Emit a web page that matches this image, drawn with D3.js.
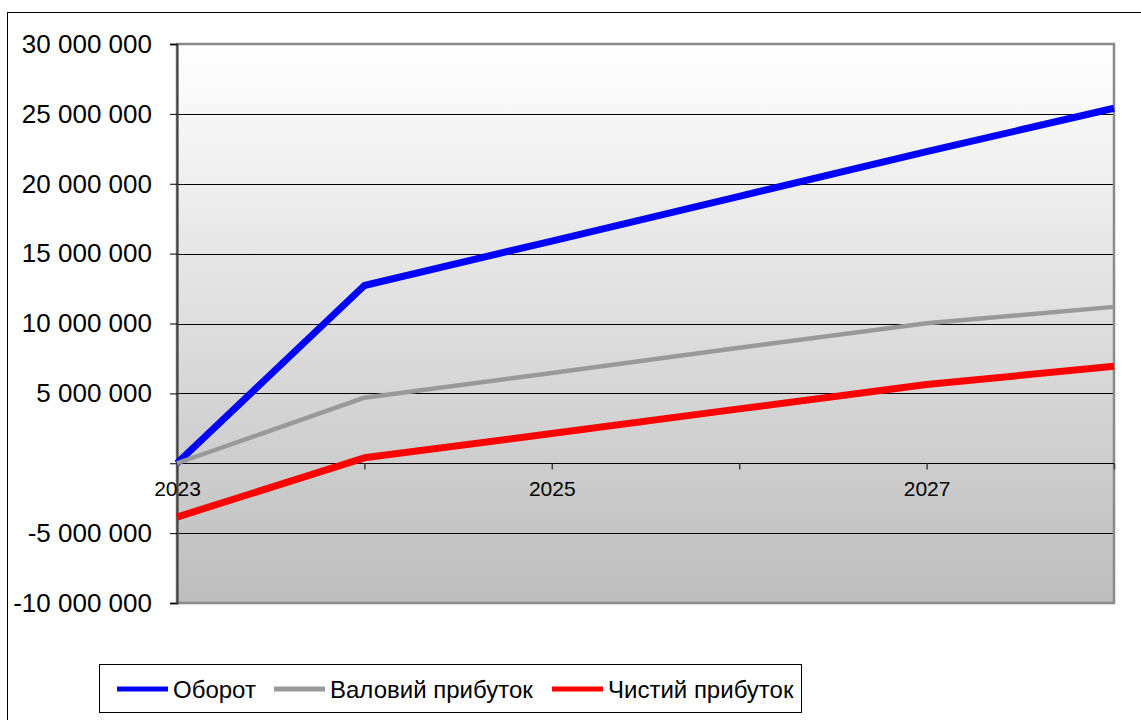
<!DOCTYPE html>
<html>
<head>
<meta charset="utf-8">
<script src="https://cdn.jsdelivr.net/npm/d3@7"></script>
<style>
  html, body { margin: 0; padding: 0; background: #fff; }
  svg { display: block; font-family: "Liberation Sans", Arial, sans-serif; }
</style>
</head>
<body>
<svg id="chart" width="1141" height="720"></svg>
<script>
// Years on the category axis
const years = [2023, 2024, 2025, 2026, 2027, 2028];
// Years that carry a label under the axis
const labelledYears = [2023, 2025, 2027];
// Value-axis ticks
const yTicks = [-10000000, -5000000, 0, 5000000, 10000000, 15000000, 20000000, 25000000, 30000000];

// Series values, UAH
const turnover    = [0, 12720000, 15900000, 19100000, 22300000, 25400000];
const grossProfit = [0, 4690000, 6460000, 8270000, 10020000, 11190000];
const netProfit   = [-3850000, 390000, 2130000, 3890000, 5630000, 6940000];

const seriesNames  = ["Оборот", "Валовий прибуток", "Чистий прибуток"];
const seriesValues = [turnover, grossProfit, netProfit];
const seriesColors = ["#0000ff", "#999999", "#ff0000"];
const seriesWidths = [7, 4.5, 7];

const svg = d3.select("#chart");

// Plot area
const plot = { left: 177, right: 1114, top: 44, bottom: 603 };

const x = d3.scalePoint().domain(years).range([plot.left, plot.right]);
const y = d3.scaleLinear().domain([-10000000, 30000000]).range([plot.bottom, plot.top]);

const locale = d3.formatLocale({ decimal: ",", thousands: " ", grouping: [3], currency: ["", ""], minus: "-" });
const fmt = locale.format(",.0f");

// Outer chart frame
svg.append("rect")
  .attr("x", 7.5).attr("y", 12.5)
  .attr("width", 1200).attr("height", 800)
  .attr("fill", "#fff").attr("stroke", "#000").attr("stroke-width", 1);

// Background gradient of the plot area
const defs = svg.append("defs");
const grad = defs.append("linearGradient")
  .attr("id", "plotBg").attr("x1", 0).attr("y1", 0).attr("x2", 0).attr("y2", 1);
grad.append("stop").attr("offset", "0%").attr("stop-color", "#ffffff");
grad.append("stop").attr("offset", "100%").attr("stop-color", "#bdbdbd");

svg.append("rect")
  .attr("x", plot.left).attr("y", plot.top)
  .attr("width", plot.right - plot.left).attr("height", plot.bottom - plot.top)
  .attr("fill", "url(#plotBg)");

// Horizontal gridlines
svg.append("g")
  .selectAll("line")
  .data(yTicks)
  .join("line")
  .attr("x1", plot.left).attr("x2", plot.right)
  .attr("y1", d => Math.round(y(d)) + 0.5).attr("y2", d => Math.round(y(d)) + 0.5)
  .attr("stroke", "#000").attr("stroke-width", 1);

// Plot border (top, right, bottom)
svg.append("rect")
  .attr("x", plot.left).attr("y", plot.top)
  .attr("width", plot.right - plot.left).attr("height", plot.bottom - plot.top)
  .attr("fill", "none").attr("stroke", "#8a8a8a").attr("stroke-width", 2.5);

// Value axis
const yAxis = d3.axisLeft(y).tickValues(yTicks).tickSize(7).tickPadding(18)
  .tickFormat(d => d === 0 ? "" : fmt(d));
const gy = svg.append("g").attr("transform", `translate(${plot.left},0)`).call(yAxis);
gy.select(".domain").attr("stroke", "#404040").attr("stroke-width", 2);
gy.selectAll(".tick line").attr("stroke", "#000");
gy.selectAll(".tick text")
  .attr("font-family", "'Liberation Sans', Arial, sans-serif")
  .attr("font-size", 26).attr("fill", "#000")
  .attr("x", -25);

// Category axis along the zero line
const xAxis = d3.axisBottom(x).tickSize(6).tickPadding(12)
  .tickFormat(d => labelledYears.includes(d) ? String(d) : "");
const gx = svg.append("g").attr("transform", `translate(0,${Math.round(y(0)) + 0.5})`).call(xAxis);
gx.select(".domain").attr("stroke", "#000").attr("stroke-width", 1.2)
  .attr("d", `M${plot.left},0H${plot.right}`);
gx.selectAll(".tick line").attr("stroke", "#404040").attr("stroke-width", 1.5);
gx.selectAll(".tick text")
  .attr("font-family", "'Liberation Sans', Arial, sans-serif")
  .attr("font-size", 21).attr("fill", "#000");

// Series lines
const line = d3.line().x((d, i) => x(years[i])).y(d => y(d));
svg.append("g")
  .selectAll("path")
  .data(seriesValues)
  .join("path")
  .attr("d", d => line(d))
  .attr("fill", "none")
  .attr("stroke", (d, i) => seriesColors[i])
  .attr("stroke-width", (d, i) => seriesWidths[i])
  .attr("stroke-linejoin", "round");

// Legend
const legend = svg.append("g");
legend.append("rect")
  .attr("x", 99.5).attr("y", 664.5).attr("width", 702).attr("height", 48)
  .attr("fill", "#fff").attr("stroke", "#000").attr("stroke-width", 1);

const legendSwatchX = [117, 274, 552];
const legendItems = legend.selectAll("g.item")
  .data(seriesNames)
  .join("g")
  .attr("class", "item")
  .attr("transform", (d, i) => `translate(${legendSwatchX[i]},689)`);
legendItems.append("line")
  .attr("x1", 0).attr("x2", 51).attr("y1", 0).attr("y2", 0)
  .attr("stroke", (d, i) => seriesColors[i]).attr("stroke-width", 5);
legendItems.append("text")
  .attr("x", 56).attr("y", 9)
  .attr("font-family", "'Liberation Sans', Arial, sans-serif")
  .attr("font-size", 24).attr("fill", "#000")
  .text(d => d);
</script>
</body>
</html>
